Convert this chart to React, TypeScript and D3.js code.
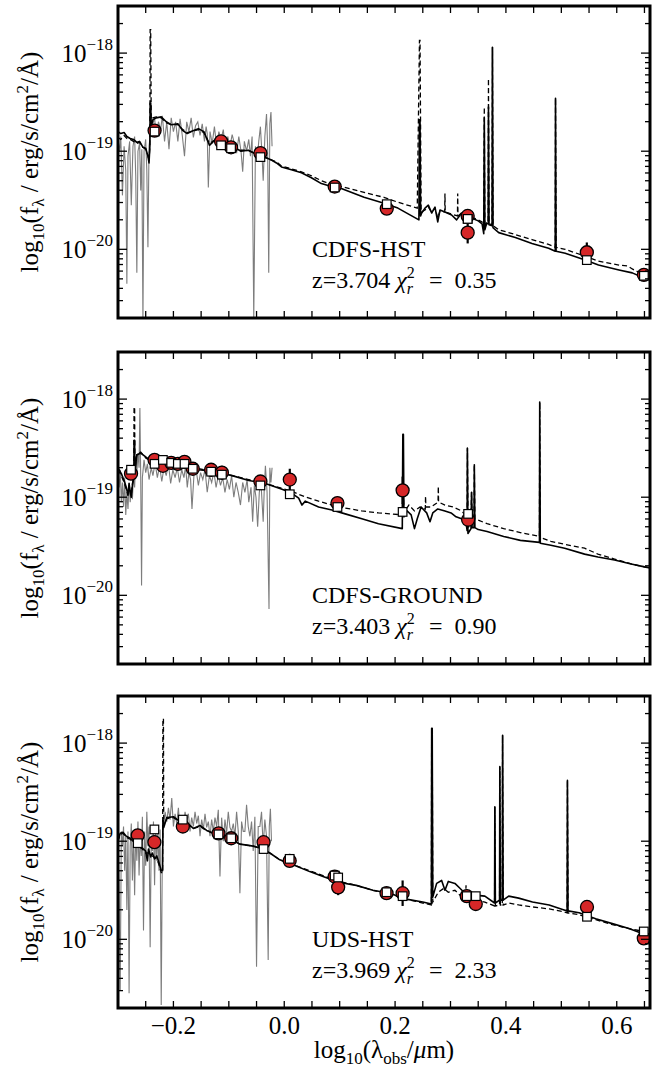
import React from 'react'
import * as d3 from 'd3'

// x = log10(lambda_obs / um), y = log10(f_lambda / erg/s/cm2/A)

// ---------- CDFS-HST ----------
const gray1: [number, number][] = [
  [-0.300,-18.88],[-0.297,-19.00],[-0.295,-18.85],[-0.292,-19.45],[-0.289,-18.95],[-0.286,-19.20],[-0.284,-20.35],[-0.282,-19.05],
  [-0.279,-18.90],[-0.276,-19.55],[-0.273,-18.95],[-0.270,-18.85],[-0.268,-19.25],[-0.266,-20.24],[-0.264,-19.00],[-0.261,-18.92],
  [-0.259,-19.40],[-0.257,-18.98],[-0.255,-20.75],[-0.253,-19.00],[-0.250,-18.88],[-0.248,-19.20],[-0.246,-19.98],[-0.244,-18.95],
  [-0.241,-18.80],[-0.237,-18.72],[-0.234,-18.66],[-0.231,-18.85],[-0.227,-18.70],[-0.223,-18.78],[-0.220,-18.64],[-0.216,-18.90],
  [-0.212,-18.70],[-0.208,-18.98],[-0.204,-18.66],[-0.200,-18.80],[-0.196,-18.70],[-0.192,-18.90],[-0.188,-18.67],[-0.184,-18.84],
  [-0.180,-19.05],[-0.176,-18.70],[-0.172,-18.80],[-0.168,-18.66],[-0.164,-18.86],[-0.160,-18.74],[-0.156,-18.70],[-0.152,-18.84],
  [-0.148,-18.72],[-0.144,-18.90],[-0.141,-18.75],[-0.139,-18.82],[-0.137,-19.37],[-0.134,-18.80],[-0.130,-18.92],[-0.126,-18.75],
  [-0.122,-18.95],[-0.118,-18.80],[-0.114,-18.88],[-0.110,-18.78],[-0.106,-19.00],[-0.102,-18.85],[-0.098,-18.95],[-0.094,-18.83],
  [-0.090,-18.92],[-0.086,-19.02],[-0.082,-18.85],[-0.078,-19.00],[-0.075,-19.21],[-0.072,-18.90],[-0.068,-19.00],[-0.064,-18.88],
  [-0.061,-19.05],[-0.058,-18.85],[-0.055,-20.70],[-0.052,-18.95],[-0.049,-19.10],[-0.046,-18.90],[-0.043,-18.75],[-0.040,-19.05],
  [-0.038,-19.30],[-0.035,-18.85],[-0.032,-18.62],[-0.030,-18.95],[-0.028,-20.24],[-0.026,-18.72],[-0.024,-18.60],[-0.022,-18.95],
]
const solid1: [number, number][] = [
  [-0.300,-18.80],[-0.295,-18.82],[-0.289,-18.81],[-0.284,-18.85],[-0.278,-18.87],[-0.272,-18.88],[-0.266,-18.91],[-0.261,-18.90],
  [-0.255,-18.96],[-0.250,-18.97],[-0.246,-19.05],[-0.244,-19.12],[-0.2425,-18.95],[-0.2420,-18.51],[-0.2410,-18.51],[-0.2400,-18.75],
  [-0.237,-18.68],[-0.231,-18.66],[-0.222,-18.65],[-0.213,-18.70],[-0.204,-18.73],[-0.192,-18.72],[-0.183,-18.79],[-0.175,-18.82],
  [-0.168,-18.80],[-0.155,-18.77],[-0.145,-18.80],[-0.135,-18.94],[-0.126,-18.89],[-0.114,-18.89],[-0.090,-18.96],[-0.078,-19.00],
  [-0.065,-18.99],[-0.054,-19.02],[-0.036,-19.06],[-0.023,-19.09],[-0.014,-19.12],[-0.005,-19.16],[0.013,-19.19],[0.031,-19.22],
  [0.049,-19.27],[0.067,-19.33],[0.085,-19.36],[0.103,-19.38],[0.144,-19.47],[0.180,-19.53],[0.205,-19.58],[0.243,-19.70],
  [0.2440,-18.68],[0.2450,-18.68],[0.2460,-19.66],[0.248,-19.63],[0.254,-19.58],[0.260,-19.55],[0.266,-19.63],[0.272,-19.57],
  [0.277,-19.72],[0.281,-19.60],[0.290,-19.62],[0.302,-19.65],[0.311,-19.70],[0.320,-19.63],[0.329,-19.67],[0.338,-19.68],
  [0.350,-19.71],[0.357,-19.74],[0.3600,-19.84],[0.3610,-18.66],[0.3620,-19.80],[0.365,-19.74],[0.3680,-19.74],[0.3685,-18.55],
  [0.3695,-19.75],[0.3750,-19.76],[0.3757,-17.94],[0.3767,-19.78],[0.387,-19.83],[0.417,-19.88],[0.447,-19.94],[0.477,-19.99],
  [0.4890,-20.02],[0.4895,-18.46],[0.4905,-20.02],[0.507,-20.04],[0.543,-20.11],[0.567,-20.16],[0.604,-20.21],[0.628,-20.24],
  [0.652,-20.30],[0.660,-20.30],
]
const dashed1: [number, number][] = [
  [-0.300,-18.86],[-0.295,-18.88],[-0.289,-18.84],[-0.284,-18.87],[-0.278,-18.88],[-0.272,-18.90],[-0.266,-18.92],[-0.261,-18.91],
  [-0.255,-18.96],[-0.250,-18.98],[-0.246,-19.04],[-0.244,-19.10],[-0.2425,-18.95],[-0.2420,-17.76],[-0.2410,-17.76],[-0.2400,-18.72],
  [-0.237,-18.66],[-0.231,-18.65],[-0.222,-18.66],[-0.213,-18.71],[-0.204,-18.73],[-0.192,-18.73],[-0.183,-18.78],[-0.175,-18.81],
  [-0.168,-18.80],[-0.155,-18.78],[-0.145,-18.81],[-0.135,-18.92],[-0.126,-18.89],[-0.114,-18.90],[-0.090,-18.96],[-0.078,-18.99],
  [-0.065,-18.99],[-0.054,-19.02],[-0.036,-19.06],[-0.023,-19.09],[-0.014,-19.11],[-0.005,-19.15],[0.013,-19.18],[0.031,-19.21],
  [0.049,-19.25],[0.067,-19.30],[0.085,-19.34],[0.103,-19.36],[0.144,-19.42],[0.180,-19.47],[0.205,-19.52],[0.240,-19.58],
  [0.2440,-17.87],[0.2450,-17.87],[0.247,-19.62],[0.254,-19.60],[0.260,-19.57],[0.266,-19.62],[0.272,-19.58],[0.277,-19.68],
  [0.281,-19.61],[0.2895,-19.62],[0.2900,-19.43],[0.2905,-19.62],[0.302,-19.64],[0.3125,-19.66],[0.3130,-19.43],[0.3135,-19.66],
  [0.320,-19.63],[0.329,-19.66],[0.338,-19.67],[0.350,-19.70],[0.357,-19.72],[0.3600,-19.80],[0.3610,-18.55],[0.3620,-19.78],
  [0.365,-19.73],[0.3680,-19.73],[0.3685,-18.26],[0.3695,-19.74],[0.3750,-19.75],[0.3757,-17.94],[0.3767,-19.76],[0.387,-19.80],
  [0.417,-19.85],[0.447,-19.90],[0.477,-19.95],[0.4890,-19.98],[0.4895,-18.46],[0.4905,-19.98],[0.507,-20.00],[0.543,-20.07],
  [0.567,-20.12],[0.604,-20.16],[0.620,-20.17],[0.628,-20.20],[0.652,-20.27],[0.660,-20.28],
]
const photX1 = [-0.234, -0.114, -0.096, -0.043, 0.091, 0.185, 0.331, 0.331, 0.546, 0.649]
const photObs1 = [-18.79, -18.90, -18.96, -19.02, -19.36, -19.585, -19.66, -19.83, -20.03, -20.26]
const photErr1 = [0.02, 0.02, 0.02, 0.02, 0.02, 0.03, 0.04, 0.11, 0.10, 0.04]
const photMod1 = [-18.80, -18.94, -18.97, -19.06, -19.37, -19.54, -19.69, -19.69, -20.11, -20.27]

// ---------- CDFS-GROUND ----------
const gray2: [number, number][] = [
  [-0.300,-18.75],[-0.298,-18.90],[-0.296,-18.72],[-0.294,-19.05],[-0.292,-18.85],[-0.290,-19.10],[-0.288,-18.80],[-0.286,-19.18],
  [-0.284,-18.95],[-0.282,-19.12],[-0.280,-18.85],[-0.278,-19.05],[-0.276,-18.90],[-0.274,-19.02],[-0.272,-18.75],[-0.270,-18.90],
  [-0.268,-18.60],[-0.266,-18.75],[-0.264,-18.55],[-0.262,-18.70],[-0.2605,-18.09],[-0.259,-18.80],[-0.2575,-19.90],[-0.256,-18.80],
  [-0.253,-18.62],[-0.250,-18.75],[-0.247,-18.66],[-0.244,-18.82],[-0.240,-18.70],[-0.237,-18.78],[-0.233,-18.65],[-0.229,-18.80],
  [-0.225,-18.68],[-0.221,-18.84],[-0.217,-18.70],[-0.213,-18.78],[-0.209,-18.66],[-0.205,-18.86],[-0.201,-18.72],[-0.197,-18.80],
  [-0.193,-18.70],[-0.189,-18.85],[-0.185,-18.72],[-0.181,-18.80],[-0.178,-18.68],[-0.175,-18.90],[-0.172,-18.75],[-0.169,-18.82],
  [-0.1665,-19.12],[-0.163,-18.78],[-0.159,-18.72],[-0.155,-18.88],[-0.151,-18.75],[-0.147,-18.82],[-0.143,-18.72],[-0.139,-18.95],
  [-0.135,-18.78],[-0.131,-18.85],[-0.127,-18.74],[-0.123,-18.90],[-0.119,-18.78],[-0.115,-18.88],[-0.111,-18.80],[-0.107,-18.95],
  [-0.103,-18.82],[-0.099,-18.92],[-0.095,-18.78],[-0.091,-19.00],[-0.087,-18.85],[-0.083,-18.95],[-0.079,-19.08],[-0.075,-18.85],
  [-0.071,-18.95],[-0.067,-18.82],[-0.064,-19.05],[-0.060,-18.90],[-0.057,-19.25],[-0.054,-18.88],[-0.051,-19.00],[-0.048,-19.30],
  [-0.045,-18.95],[-0.042,-18.85],[-0.038,-19.25],[-0.036,-18.90],[-0.034,-18.68],[-0.031,-18.95],[-0.0275,-20.14],[-0.026,-18.70],
  [-0.024,-18.85],[-0.022,-18.70],
]
const solid2: [number, number][] = [
  [-0.300,-18.70],[-0.294,-18.76],[-0.289,-18.83],[-0.285,-18.90],[-0.282,-18.98],[-0.280,-18.86],[-0.278,-18.95],[-0.276,-19.00],
  [-0.274,-18.88],[-0.2715,-18.80],[-0.2710,-18.42],[-0.2700,-18.42],[-0.2695,-18.75],[-0.266,-18.57],[-0.259,-18.55],[-0.250,-18.59],
  [-0.238,-18.64],[-0.214,-18.66],[-0.184,-18.67],[-0.154,-18.72],[-0.124,-18.74],[-0.094,-18.78],[-0.064,-18.83],[-0.034,-18.86],
  [-0.004,-18.92],[0.014,-18.96],[0.026,-19.01],[0.032,-19.08],[0.038,-19.04],[0.062,-19.10],[0.086,-19.13],[0.110,-19.17],
  [0.140,-19.22],[0.170,-19.27],[0.2130,-19.32],[0.2140,-18.36],[0.2150,-18.36],[0.2160,-19.20],[0.222,-19.14],[0.229,-19.18],
  [0.235,-19.32],[0.240,-19.22],[0.247,-19.10],[0.257,-19.16],[0.263,-19.25],[0.268,-19.16],[0.277,-19.12],[0.290,-19.14],
  [0.301,-19.16],[0.310,-19.20],[0.320,-19.22],[0.328,-19.26],[0.3300,-19.34],[0.3305,-18.50],[0.3315,-19.37],[0.3370,-19.32],
  [0.3380,-18.95],[0.3390,-19.31],[0.3425,-19.31],[0.3430,-18.67],[0.3440,-19.31],[0.350,-19.33],[0.366,-19.35],[0.396,-19.40],
  [0.426,-19.44],[0.4605,-19.46],[0.4610,-18.03],[0.4620,-19.47],[0.481,-19.49],[0.506,-19.52],[0.542,-19.58],[0.566,-19.61],
  [0.596,-19.64],[0.626,-19.68],[0.650,-19.71],[0.660,-19.72],
]
const dashed2: [number, number][] = [
  [-0.300,-18.72],[-0.294,-18.78],[-0.289,-18.85],[-0.285,-18.92],[-0.282,-18.97],[-0.280,-18.88],[-0.278,-18.93],[-0.276,-18.98],
  [-0.274,-18.86],[-0.2715,-18.78],[-0.2710,-18.08],[-0.2700,-18.08],[-0.2695,-18.72],[-0.266,-18.56],[-0.259,-18.54],[-0.250,-18.60],
  [-0.238,-18.64],[-0.214,-18.66],[-0.184,-18.67],[-0.154,-18.71],[-0.124,-18.74],[-0.094,-18.78],[-0.064,-18.82],[-0.034,-18.86],
  [-0.004,-18.91],[0.014,-18.94],[0.026,-18.97],[0.040,-19.00],[0.062,-19.04],[0.086,-19.08],[0.110,-19.11],[0.140,-19.14],
  [0.170,-19.16],[0.2130,-19.18],[0.2140,-18.95],[0.2150,-18.95],[0.2160,-19.15],[0.225,-19.08],[0.235,-19.14],[0.245,-19.10],
  [0.2545,-19.12],[0.2550,-18.99],[0.2555,-19.10],[0.265,-19.10],[0.2775,-19.05],[0.2780,-18.89],[0.2785,-19.05],[0.290,-19.08],
  [0.305,-19.10],[0.320,-19.14],[0.3300,-19.20],[0.3305,-18.50],[0.3315,-19.20],[0.3370,-19.21],[0.3380,-18.95],[0.3390,-19.21],
  [0.3425,-19.22],[0.3430,-18.67],[0.3440,-19.22],[0.366,-19.27],[0.396,-19.32],[0.426,-19.36],[0.4605,-19.40],[0.4610,-18.03],
  [0.4620,-19.41],[0.481,-19.45],[0.506,-19.48],[0.542,-19.52],[0.566,-19.58],[0.596,-19.63],[0.626,-19.68],[0.650,-19.71],
  [0.660,-19.72],
]
const photX2 = [-0.2765, -0.234, -0.219, -0.204, -0.192, -0.180, -0.165, -0.132, -0.1125, -0.043, 0.010, 0.096, 0.2136, 0.3318]
const photObs2 = [-18.76, -18.62, -18.68, -18.65, -18.66, -18.64, -18.71, -18.72, -18.75, -18.84, -18.82, -19.06, -18.93, -19.23]
const photErr2 = [0.05, 0.02, 0.02, 0.02, 0.02, 0.02, 0.03, 0.03, 0.07, 0.03, 0.11, 0.03, 0.14, 0.08]
const photMod2 = [-18.72, -18.66, -18.62, -18.65, -18.66, -18.66, -18.71, -18.74, -18.77, -18.88, -18.97, -19.10, -19.15, -19.17]

// ---------- UDS-HST ----------
const gray3: [number, number][] = [
  [-0.300,-19.00],[-0.298,-19.60],[-0.296,-20.52],[-0.294,-18.90],[-0.292,-19.05],[-0.290,-18.85],[-0.288,-19.30],[-0.286,-18.95],
  [-0.284,-19.70],[-0.282,-18.90],[-0.280,-20.55],[-0.278,-19.05],[-0.276,-18.82],[-0.274,-19.40],[-0.272,-18.92],[-0.270,-19.55],
  [-0.268,-18.88],[-0.266,-19.20],[-0.264,-18.80],[-0.262,-19.35],[-0.260,-18.95],[-0.258,-19.15],[-0.256,-18.75],[-0.254,-19.91],
  [-0.252,-18.90],[-0.250,-19.25],[-0.248,-18.70],[-0.246,-19.05],[-0.244,-18.85],[-0.242,-20.08],[-0.240,-18.95],[-0.238,-19.10],
  [-0.236,-18.80],[-0.234,-19.45],[-0.232,-18.85],[-0.230,-19.20],[-0.228,-18.90],[-0.226,-19.30],[-0.224,-18.88],[-0.222,-20.67],
  [-0.220,-19.10],[-0.218,-18.85],[-0.215,-18.70],[-0.212,-18.80],[-0.209,-18.66],[-0.206,-18.78],[-0.203,-18.56],[-0.200,-18.85],
  [-0.197,-18.72],[-0.194,-18.82],[-0.191,-18.66],[-0.188,-18.90],[-0.185,-18.75],[-0.182,-18.84],[-0.179,-18.70],[-0.176,-18.80],
  [-0.173,-18.72],[-0.170,-18.90],[-0.167,-18.76],[-0.164,-18.85],[-0.161,-18.70],[-0.158,-18.82],[-0.155,-18.74],[-0.152,-18.95],
  [-0.149,-18.78],[-0.146,-18.88],[-0.143,-18.72],[-0.140,-18.86],[-0.137,-18.80],[-0.134,-18.95],[-0.131,-18.78],[-0.128,-18.90],
  [-0.125,-18.76],[-0.122,-18.85],[-0.119,-18.68],[-0.116,-19.36],[-0.113,-18.76],[-0.110,-19.00],[-0.107,-18.78],[-0.104,-18.92],
  [-0.101,-18.70],[-0.098,-18.86],[-0.095,-18.90],[-0.092,-18.82],[-0.089,-18.95],[-0.086,-18.70],[-0.083,-18.90],[-0.080,-19.53],
  [-0.077,-18.80],[-0.074,-18.90],[-0.071,-18.90],[-0.068,-18.63],[-0.065,-18.85],[-0.062,-18.95],[-0.059,-18.80],[-0.056,-19.10],
  [-0.053,-18.75],[-0.050,-20.28],[-0.047,-18.85],[-0.044,-18.85],[-0.041,-18.70],[-0.038,-19.05],[-0.035,-18.78],[-0.032,-18.95],
  [-0.029,-20.21],[-0.027,-18.85],[-0.025,-18.67],[-0.023,-19.00],
]
const solid3: [number, number][] = [
  [-0.300,-18.99],[-0.296,-18.92],[-0.291,-18.91],[-0.285,-18.95],[-0.278,-18.97],[-0.271,-19.01],[-0.264,-19.04],[-0.256,-19.07],
  [-0.250,-19.10],[-0.247,-19.20],[-0.245,-19.08],[-0.241,-19.16],[-0.238,-19.12],[-0.234,-19.18],[-0.230,-19.15],[-0.226,-19.22],
  [-0.222,-19.30],[-0.2195,-19.30],[-0.2190,-18.79],[-0.2180,-18.79],[-0.2175,-18.86],[-0.212,-18.76],[-0.200,-18.75],[-0.188,-18.80],
  [-0.176,-18.81],[-0.164,-18.87],[-0.152,-18.84],[-0.140,-18.89],[-0.128,-18.92],[-0.104,-18.96],[-0.080,-19.03],[-0.056,-19.05],
  [-0.044,-19.07],[-0.026,-19.12],[-0.008,-19.19],[0.016,-19.24],[0.046,-19.31],[0.070,-19.36],[0.100,-19.42],[0.130,-19.45],
  [0.160,-19.50],[0.190,-19.53],[0.220,-19.59],[0.250,-19.62],[0.2655,-19.64],[0.2660,-17.85],[0.2670,-17.85],[0.2680,-19.57],
  [0.275,-19.43],[0.284,-19.40],[0.290,-19.50],[0.296,-19.41],[0.308,-19.43],[0.317,-19.48],[0.326,-19.53],[0.344,-19.55],
  [0.362,-19.56],[0.3795,-19.63],[0.3800,-18.65],[0.3810,-19.63],[0.3885,-19.60],[0.3890,-18.24],[0.3900,-19.60],[0.3935,-19.60],
  [0.3940,-17.92],[0.3950,-19.60],[0.405,-19.56],[0.423,-19.58],[0.448,-19.62],[0.478,-19.65],[0.505,-19.70],[0.5105,-19.71],
  [0.5110,-18.38],[0.5120,-19.71],[0.532,-19.73],[0.562,-19.79],[0.592,-19.84],[0.622,-19.89],[0.646,-19.94],[0.660,-19.96],
]
const dashed3: [number, number][] = [
  [-0.300,-19.00],[-0.296,-18.93],[-0.291,-18.92],[-0.285,-18.96],[-0.278,-18.98],[-0.271,-19.02],[-0.264,-19.05],[-0.256,-19.08],
  [-0.250,-19.12],[-0.245,-19.12],[-0.238,-19.15],[-0.230,-19.18],[-0.226,-19.24],[-0.222,-19.32],[-0.2195,-19.32],[-0.2190,-17.75],
  [-0.2180,-17.75],[-0.2175,-18.84],[-0.212,-18.77],[-0.200,-18.76],[-0.188,-18.80],[-0.176,-18.82],[-0.164,-18.87],[-0.152,-18.85],
  [-0.140,-18.89],[-0.128,-18.92],[-0.104,-18.96],[-0.080,-19.03],[-0.056,-19.05],[-0.044,-19.07],[-0.026,-19.12],[-0.008,-19.19],
  [0.016,-19.24],[0.046,-19.30],[0.070,-19.35],[0.100,-19.41],[0.130,-19.45],[0.160,-19.50],[0.190,-19.54],[0.220,-19.59],
  [0.250,-19.63],[0.2655,-19.65],[0.2660,-17.85],[0.2670,-17.85],[0.2680,-19.62],[0.278,-19.52],[0.288,-19.48],[0.296,-19.52],
  [0.308,-19.50],[0.317,-19.55],[0.3275,-19.57],[0.3280,-19.45],[0.3285,-19.57],[0.344,-19.60],[0.362,-19.62],[0.3795,-19.66],
  [0.3800,-18.65],[0.3810,-19.66],[0.3885,-19.65],[0.3890,-18.24],[0.3900,-19.65],[0.3935,-19.65],[0.3940,-17.92],[0.3950,-19.65],
  [0.405,-19.63],[0.423,-19.65],[0.448,-19.67],[0.478,-19.69],[0.505,-19.72],[0.5105,-19.73],[0.5110,-18.38],[0.5120,-19.73],
  [0.532,-19.75],[0.562,-19.80],[0.592,-19.85],[0.622,-19.89],[0.640,-19.91],[0.646,-19.93],[0.660,-19.96],
]
const photX3 = [-0.2644, -0.2343, -0.183, -0.1186, -0.0957, -0.0373, 0.0098, 0.091, 0.0973, 0.1846, 0.2136, 0.3293, 0.3456, 0.5463, 0.6488]
const photObs3 = [-18.94, -19.01, -18.85, -18.92, -18.97, -19.01, -19.20, -19.36, -19.47, -19.53, -19.53, -19.56, -19.64, -19.67, -19.99]
const photErr3 = [0.04, 0.05, 0.03, 0.02, 0.02, 0.02, 0.02, 0.03, 0.08, 0.03, 0.13, 0.07, 0.03, 0.03, 0.03]
const photMod3 = [-19.02, -18.88, -18.78, -18.93, -18.97, -19.08, -19.18, -19.35, -19.37, -19.52, -19.56, -19.56, -19.56, -19.77, -19.92]

const fieldNames = ['CDFS-HST', 'CDFS-GROUND', 'UDS-HST']
const redshifts = ['3.704', '3.403', '3.969']
const chi2 = ['0.35', '0.90', '2.33']
const xLabelTicks = [-0.2, 0.0, 0.2, 0.4, 0.6]

const panels = [
  { gray: gray1, solid: solid1, dashed: dashed1, px: photX1, obs: photObs1, err: photErr1, mod: photMod1 },
  { gray: gray2, solid: solid2, dashed: dashed2, px: photX2, obs: photObs2, err: photErr2, mod: photMod2 },
  { gray: gray3, solid: solid3, dashed: dashed3, px: photX3, obs: photObs3, err: photErr3, mod: photMod3 },
]

const W = 658
const H = 1073
const LEFT = 118
const RIGHT = 650
const PH = 312
const TOPS = [6, 352, 696]
const FONT = 'Liberation Serif, DejaVu Serif, serif'

function Panel({ i }: { i: number }) {
  const p = panels[i]
  const top = TOPS[i]
  const bottom = top + PH
  const x = d3.scaleLinear().domain([-0.3, 0.66]).range([LEFT, RIGHT])
  const y = d3.scaleLog().domain([Math.pow(10, -20.7), Math.pow(10, -17.52)]).range([bottom, top])
  const line = d3.line<[number, number]>()
    .x(d => x(d[0]))
    .y(d => y(Math.pow(10, d[1])))
  const yt = y.ticks()
  const xt = x.ticks(20)
  const clip = 'clip' + i
  const last = i === 2

  return (
    <g>
      <defs>
        <clipPath id={clip}>
          <rect x={LEFT} y={top} width={RIGHT - LEFT} height={PH} />
        </clipPath>
      </defs>
      <g clipPath={`url(#${clip})`}>
        <path d={line(p.gray) || ''} fill="none" stroke="#7d7d7d" strokeWidth={1.1} />
        <path d={line(p.solid) || ''} fill="none" stroke="#000" strokeWidth={1.6} strokeLinejoin="round" />
        <path d={line(p.dashed) || ''} fill="none" stroke="#000" strokeWidth={1.3} strokeDasharray="5,3" />
        {p.px.map((v, k) => (
          <line key={'e' + k} x1={x(v)} x2={x(v)}
            y1={y(Math.pow(10, p.obs[k] - p.err[k]))} y2={y(Math.pow(10, p.obs[k] + p.err[k]))}
            stroke="#000" strokeWidth={2.2} />
        ))}
        {p.px.map((v, k) => (
          <circle key={'c' + k} cx={x(v)} cy={y(Math.pow(10, p.obs[k]))} r={6.5}
            fill="#d62728" stroke="#000" strokeWidth={1.3} />
        ))}
        {p.px.map((v, k) => (
          <rect key={'s' + k} x={x(v) - 4.3} y={y(Math.pow(10, p.mod[k])) - 4.3} width={8.6} height={8.6}
            fill="#fff" stroke="#000" strokeWidth={1.2} />
        ))}
      </g>

      {yt.map((t, k) => {
        const major = Math.abs(Math.log10(t) - Math.round(Math.log10(t))) < 1e-6
        const len = major ? 9 : 5
        const yy = y(t)
        return (
          <g key={'yt' + k}>
            <line x1={LEFT} x2={LEFT + len} y1={yy} y2={yy} stroke="#000" strokeWidth={1.3} />
            <line x1={RIGHT} x2={RIGHT - len} y1={yy} y2={yy} stroke="#000" strokeWidth={1.3} />
            {major && (
              <text x={113} y={yy + 9} textAnchor="end" fontFamily={FONT} fontSize={25}>
                10<tspan fontSize={17} dy={-12}>{'\u2212' + Math.abs(Math.round(Math.log10(t)))}</tspan>
              </text>
            )}
          </g>
        )
      })}
      {xt.map((t, k) => (
        <g key={'xt' + k}>
          <line x1={x(t)} x2={x(t)} y1={bottom} y2={bottom - 7} stroke="#000" strokeWidth={1.3} />
          <line x1={x(t)} x2={x(t)} y1={top} y2={top + 7} stroke="#000" strokeWidth={1.3} />
        </g>
      ))}
      {last && xLabelTicks.map((t, k) => (
        <text key={'xl' + k} x={x(t)} y={bottom + 26} textAnchor="middle" fontFamily={FONT} fontSize={25}>
          {(t < 0 ? '\u2212' : '') + Math.abs(t).toFixed(1)}
        </text>
      ))}
      <rect x={LEFT} y={top} width={RIGHT - LEFT} height={PH} fill="none" stroke="#000" strokeWidth={3} />

      <text transform={`translate(38,${top + PH / 2}) rotate(-90)`} textAnchor="middle" fontFamily={FONT} fontSize={25}>
        log<tspan fontSize={17} dy={6}>10</tspan><tspan dy={-6}>(f</tspan><tspan fontSize={17} dy={6}>λ</tspan>
        <tspan dy={-6}>{' / erg/s/cm'}</tspan><tspan fontSize={17} dy={-10}>2</tspan><tspan dy={10}>/Å)</tspan>
      </text>

      <text x={312} y={bottom - 61} fontFamily={FONT} fontSize={24}>{fieldNames[i]}</text>
      <text x={312} y={bottom - 30} fontFamily={FONT} fontSize={24}>
        {'z=' + redshifts[i] + ' '}<tspan fontStyle="italic">χ</tspan>
        <tspan fontSize={16} dy={-10}>2</tspan>
        <tspan fontSize={16} fontStyle="italic" dx={-8} dy={16}>r</tspan>
        <tspan dx={4} dy={-6}>{'\u2002=\u2002' + chi2[i]}</tspan>
      </text>
    </g>
  )
}

export default function App() {
  return (
    <svg width={W} height={H} style={{ position: 'absolute', left: 0, top: 0, background: '#fff' }}>
      <rect width={W} height={H} fill="#fff" />
      {panels.map((_, i) => <Panel key={i} i={i} />)}
      <text x={384} y={1058} textAnchor="middle" fontFamily={FONT} fontSize={25}>
        log<tspan fontSize={17} dy={6}>10</tspan><tspan dy={-6}>(λ</tspan><tspan fontSize={17} dy={6}>obs</tspan>
        <tspan dy={-6}>/</tspan><tspan fontStyle="italic">μ</tspan><tspan>m)</tspan>
      </text>
    </svg>
  )
}
